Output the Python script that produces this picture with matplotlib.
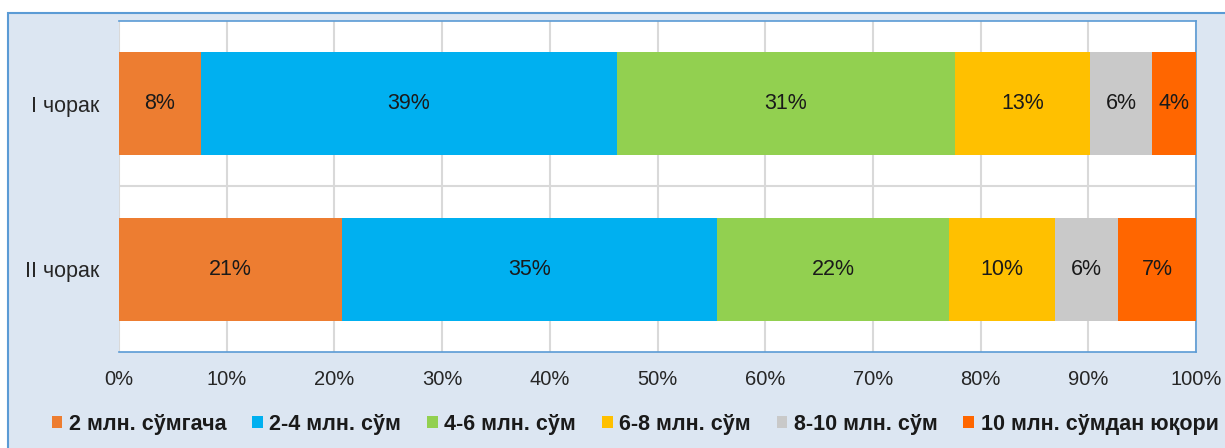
import numpy as np
import matplotlib.pyplot as plt
from matplotlib.patches import Rectangle

plt.rcParams['font.family'] = ['Liberation Sans', 'DejaVu Sans']

# data
quarters = ['I чорак', 'II чорак']
groups = ['2 млн. сўмгача', '2-4 млн. сўм', '4-6 млн. сўм',
          '6-8 млн. сўм', '8-10 млн. сўм', '10 млн. сўмдан юқори']
q1 = [7.6, 38.6, 31.4, 12.6, 5.7, 4.1]
q2 = [20.7, 34.8, 21.6, 9.8, 5.9, 7.2]
colors = ['#ED7D31', '#00B0F0', '#92D050', '#FFC000', '#C9C9C9', '#FF6600']

values = np.array([q1, q2])
ticks = np.arange(0, 101, 10)

fig = plt.figure(figsize=(12.25, 4.48), dpi=100, facecolor='white')

# outer chart frame
frame = Rectangle((8 / 1225, -0.05), 1.1, (448 - 13) / 448 + 0.05,
                  transform=fig.transFigure, facecolor='#DCE6F2',
                  edgecolor='#5B9BD5', linewidth=1.5, zorder=-10)
fig.patches.append(frame)

ax = fig.add_axes([119 / 1225, 1 - 352 / 448, (1196 - 119) / 1225, (352 - 21) / 448])
ax.set_facecolor('white')

y = np.arange(len(quarters))
left = np.zeros(len(quarters))
for i, name in enumerate(groups):
    w = values[:, i]
    bars = ax.barh(y, w, left=left, height=0.62, color=colors[i], label=name, zorder=3)
    for b, v in zip(bars, w):
        ax.text(b.get_x() + b.get_width() / 2, b.get_y() + b.get_height() / 2,
                f'{v:.0f}%', ha='center', va='center', fontsize=15.5,
                color='#1a1a1a', zorder=4)
    left += w

ax.set_xlim(0, 100)
ax.set_ylim(1.5, -0.5)
ax.set_xticks(ticks)
ax.set_xticklabels([f'{t}%' for t in ticks])
ax.set_yticks(y)
ax.set_yticklabels(quarters, fontsize=15.5)
ax.set_yticks([0.5], minor=True)
ax.tick_params(axis='both', length=0, colors='#262626')
ax.tick_params(axis='x', pad=13, labelsize=14.5)
ax.tick_params(axis='y', pad=14)
ax.tick_params(which='minor', length=0)
ax.grid(axis='x', color='#D9D9D9', linewidth=1.5, zorder=1)
ax.grid(axis='y', which='minor', color='#D9D9D9', linewidth=1.5, zorder=1)
ax.set_axisbelow(True)

for s in ['top', 'right', 'bottom']:
    ax.spines[s].set_color('#5B9BD5')
    ax.spines[s].set_linewidth(1.2)
ax.spines['left'].set_visible(False)

fig.legend(loc='center', bbox_to_anchor=(635 / 1225, 1 - 424 / 448), ncol=6,
           frameon=False, prop={'weight': 'bold', 'size': 15.5},
           handlelength=0.5, handleheight=0.5, handletextpad=0.3,
           columnspacing=1.2, labelcolor='#1a1a1a')

fig.savefig('out.png', dpi=100, facecolor=fig.get_facecolor())
